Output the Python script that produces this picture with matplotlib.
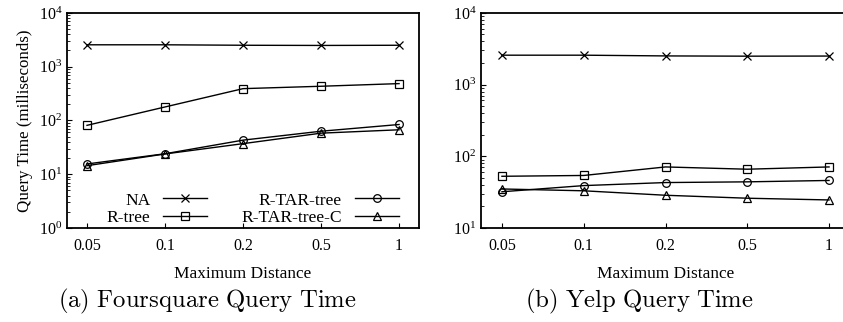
import matplotlib
matplotlib.use('Agg')
import matplotlib.pyplot as plt
import numpy as np

plt.rcParams['font.family'] = ['Liberation Serif', 'DejaVu Serif']
plt.rcParams['mathtext.fontset'] = 'custom'
plt.rcParams['mathtext.rm'] = 'Liberation Serif'

distances = ['0.05', '0.1', '0.2', '0.5', '1']

# Foursquare
fs_na = [2550, 2550, 2500, 2480, 2500]
fs_rtree = [81, 178, 390, 432, 484]
fs_rtar = [15.5, 24, 43, 63, 84]
fs_rtarc = [14.4, 23.8, 37, 58, 67]

# Yelp
yp_na = [2570, 2570, 2510, 2490, 2500]
yp_rtree = [52.6, 54, 71, 66, 71]
yp_rtar = [32, 39, 43, 44, 46]
yp_rtarc = [35, 33, 28.6, 26, 24.6]

labels = ['NA', 'R-tree', 'R-TAR-tree', 'R-TAR-tree-C']
markers = ['x', 's', 'o', '^']

fig = plt.figure(figsize=(8.43, 3.22), dpi=100)
ax1 = fig.add_axes([0.0795, 0.292, 0.4176, 0.668])
ax2 = fig.add_axes([0.5706, 0.292, 0.4377, 0.668])

x = np.arange(len(distances))


def draw(ax, series, ylim):
    lines = []
    for s, m, lab in zip(series, markers, labels):
        ln, = ax.plot(x, s, color='black', lw=1.0, marker=m, markersize=5.5,
                      markerfacecolor='none', markeredgewidth=0.9, label=lab)
        lines.append(ln)
    ax.set_yscale('log')
    ax.set_ylim(*ylim)
    ax.set_xlim(-0.256, 4.256)
    ax.set_xticks(x)
    ax.set_xticklabels(distances)
    ax.tick_params(axis='both', which='major', direction='in', length=3.5,
                   width=0.8, labelsize=11.5, top=False, right=False)
    ax.tick_params(axis='y', which='minor', direction='in', length=2,
                   width=0.6, right=False)
    ax.tick_params(axis='x', pad=7)
    for sp in ax.spines.values():
        sp.set_linewidth(1.3)
    ax.set_xlabel('Maximum Distance', fontsize=12.4, labelpad=9)
    return lines


lines = draw(ax1, [fs_na, fs_rtree, fs_rtar, fs_rtarc], (1, 1e4))
draw(ax2, [yp_na, yp_rtree, yp_rtar, yp_rtarc], (10, 1e4))
ax2.spines['right'].set_visible(False)

ax1.set_ylabel('Query Time (milliseconds)', fontsize=12.2, labelpad=4)

ax1.legend(handles=lines, ncol=2, loc='lower right', frameon=False,
           markerfirst=False, fontsize=12.6, handlelength=2.5,
           columnspacing=1.95, handletextpad=0.75, labelspacing=0.05,
           borderaxespad=0.0, bbox_to_anchor=(0.962, -0.022))

fig.text(0.246, 0.063, r'$\mathrm{(a)\ Foursquare\ Query\ Time}$',
         ha='center', va='center', fontsize=17.8, math_fontfamily='cm')
fig.text(0.758, 0.063, r'$\mathrm{(b)\ Yelp\ Query\ Time}$',
         ha='center', va='center', fontsize=17.8, math_fontfamily='cm')

fig.savefig('out.png', dpi=100)
